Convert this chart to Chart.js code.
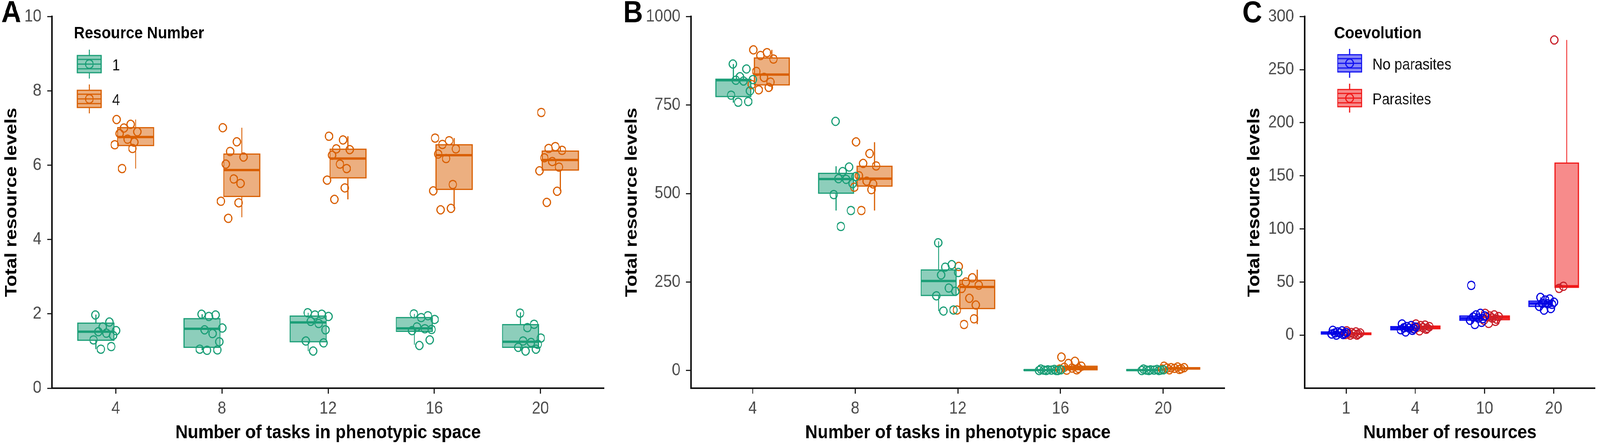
<!DOCTYPE html>
<html>
<head>
<meta charset="utf-8">
<title>Total resource levels</title>
<script src="https://cdn.jsdelivr.net/npm/chart.js@4.4.1/dist/chart.umd.min.js"></script>
<style>
  html, body { margin: 0; padding: 0; background: #fff; overflow: hidden; }
  #outer { position: relative; overflow: hidden; background: #fff; }
  #wrap { position: absolute; left: 0; top: 0; width: 4550px; height: 1146px; background: #fff; transform-origin: 0 0; }
  canvas { position: absolute; top: 0; }
</style>
</head>
<body>
<div id="outer">
  <div id="wrap">
    <canvas id="chartA" width="1760" height="1146" style="left:0px"></canvas>
    <canvas id="chartB" width="1740" height="1146" style="left:1760px"></canvas>
    <canvas id="chartC" width="1050" height="1146" style="left:3500px"></canvas>
  </div>
</div>
<script>
// ---- data ----
const taskCats = ['4', '8', '12', '16', '20'];
const resourceCats = ['1', '4', '10', '20'];

// box stats per group: [lower whisker, q1, median, q3, upper whisker]
const aRes1Box = [[1.05, 1.29, 1.52, 1.75, 1.98], [1.02, 1.10, 1.60, 1.87, 1.99], [1.00, 1.25, 1.77, 1.94, 2.03], [1.17, 1.53, 1.61, 1.90, 2.00], [1.00, 1.10, 1.25, 1.71, 2.04]];
const aRes4Box = [[5.91, 6.53, 6.76, 7.01, 7.23], [4.60, 5.16, 5.87, 6.30, 7.01], [5.08, 5.66, 6.18, 6.43, 6.78], [4.84, 5.35, 6.27, 6.55, 6.73], [5.31, 5.87, 6.14, 6.38, 6.51]];
const aRes1Pts = [
  [1.97, 1.78, 1.65, 1.55, 1.52, 1.48, 1.42, 1.30, 1.12, 1.05],
  [1.99, 1.97, 1.93, 1.62, 1.57, 1.47, 1.25, 1.05, 1.03, 1.02],
  [2.03, 1.99, 1.97, 1.93, 1.80, 1.74, 1.57, 1.27, 1.22, 1.00],
  [2.00, 1.95, 1.90, 1.85, 1.65, 1.60, 1.58, 1.55, 1.30, 1.15],
  [2.02, 1.72, 1.63, 1.35, 1.27, 1.23, 1.18, 1.10, 1.05, 1.00]
];
const aRes4Pts = [
  [7.23, 7.10, 7.00, 6.90, 6.85, 6.70, 6.62, 6.55, 6.45, 5.91],
  [7.01, 6.63, 6.37, 6.22, 6.03, 5.63, 5.51, 5.03, 4.99, 4.57],
  [6.78, 6.68, 6.44, 6.42, 6.27, 6.03, 5.91, 5.60, 5.39, 5.08],
  [6.73, 6.66, 6.56, 6.44, 6.30, 6.18, 5.48, 5.31, 4.84, 4.80],
  [7.42, 6.50, 6.45, 6.40, 6.20, 6.10, 5.95, 5.85, 5.30, 5.00]
];

const bRes1Box = [[757, 774, 820, 823, 866], [452, 501, 541, 557, 577], [168, 212, 253, 284, 365], [0, 0.5, 1, 2, 4], [0, 0.5, 1, 2, 4]];
const bRes4Box = [[793, 807, 836, 883, 906], [452, 521, 542, 577, 645], [131, 175, 236, 255, 285], [0, 2, 7, 12, 26], [2, 4, 6, 8, 12]];
const bRes1Pts = [
  [866, 852, 830, 822, 820, 818, 790, 778, 760, 758],
  [704, 575, 562, 548, 542, 540, 528, 497, 452, 407],
  [361, 299, 292, 277, 270, 233, 224, 211, 171, 168],
  [4, 3, 2, 2, 1, 1, 0, 0, 0, 0],
  [4, 3, 2, 2, 1, 1, 1, 0, 0, 0]
];
const bRes4Pts = [
  [906, 898, 890, 880, 845, 828, 815, 808, 800, 793],
  [646, 613, 585, 578, 550, 535, 527, 518, 511, 452],
  [294, 262, 250, 241, 232, 204, 185, 171, 146, 130],
  [38, 26, 20, 12, 9, 7, 6, 4, 2, 1],
  [12, 10, 8, 8, 7, 6, 5, 4, 3, 2]
];

const cNoParBox = [[0, 1, 2, 3, 4.5], [3, 5, 6.5, 8, 10.5], [10, 14, 15.8, 18, 21], [23.5, 27, 29.8, 32, 35.5]];
const cParBox = [[0, 0.5, 1.2, 2, 4], [4, 6, 7.3, 8.5, 10.5], [11, 14.5, 16.4, 18, 20.5], [44, 45, 46, 162, 278]];
const cNoParPts = [
  [4.5, 4, 3, 2.5, 2, 2, 1.5, 1, 0.5, 0],
  [10.5, 9, 8, 7.5, 7, 6.5, 6, 5, 4.5, 3],
  [46.8, 20.5, 19, 18, 17, 16, 15.5, 14, 12, 10],
  [35.5, 34, 33, 31, 30, 29.5, 29, 27, 25, 23.5]
];
const cParPts = [
  [4, 3, 2.5, 2, 1.5, 1, 1, 0.5, 0, 0],
  [10.5, 9.5, 9, 8, 7.5, 7, 6.5, 6, 5.5, 4],
  [20.5, 19, 18, 17.5, 17, 16, 15, 14, 13, 11],
  [278, 46, 44]
];

const aTicks = [0, 2, 4, 6, 8, 10];
const bTicks = [0, 250, 500, 750, 1000];
const cTicks = [0, 50, 100, 150, 200, 250, 300];

// ---- styling / layout ----
const FONT = "'Liberation Sans', Arial, Helvetica, sans-serif";
const GREEN = '#1B9E77', ORANGE = '#D95F02', BLUE = '#1010F0', RED = '#F01818';
const DODGE = 0.1875, BOX_W = 0.34;
const PT_SHIFT = 0.1, PT_SPREAD = 0.115;
const JITTER = [-0.8, 0.35, -0.2, 0.9, -0.55, 0.1, 0.65, -0.95, 0.5, -0.35];
const PLOT_TOP = 33, PLOT_BOTTOM = 993, W = 4550, H = 1146;

// stretch the fixed 4550x1146 layout over the whole viewport the window reports
const fitX = (window.innerWidth || W) / W;
const fitY = (window.innerHeight || H) / H;
const outer = document.getElementById('outer');
outer.style.width = (W * fitX) + 'px';
outer.style.height = (H * fitY) + 'px';
document.getElementById('wrap').style.transform = 'scale(' + fitX + ',' + fitY + ')';
const DPR = Math.max(fitX, fitY) * (window.devicePixelRatio || 1);

function jittered(groups, side) {
  const out = [];
  groups.forEach((vals, i) => {
    vals.forEach((v, j) => {
      out.push({ x: i + 1 + side * PT_SHIFT + JITTER[j % JITTER.length] * PT_SPREAD, y: v });
    });
  });
  return out;
}

function boxPlugin(series) {
  return {
    id: 'boxes',
    beforeDatasetsDraw(chart) {
      const { ctx, scales: { x, y } } = chart;
      series.forEach(s => {
        s.box.forEach((st, i) => {
          const cx = i + 1 + s.side * DODGE;
          const x0 = x.getPixelForValue(cx - BOX_W / 2);
          const x1 = x.getPixelForValue(cx + BOX_W / 2);
          const xm = x.getPixelForValue(cx);
          const [lo, q1, med, q3, hi] = st.map(v => y.getPixelForValue(v));
          ctx.save();
          ctx.strokeStyle = s.color;
          ctx.lineWidth = 3;
          ctx.beginPath();
          ctx.moveTo(xm, q3); ctx.lineTo(xm, hi);
          ctx.moveTo(xm, q1); ctx.lineTo(xm, lo);
          ctx.stroke();
          ctx.fillStyle = s.fill;
          ctx.fillRect(x0, q3, x1 - x0, q1 - q3);
          ctx.strokeRect(x0, q3, x1 - x0, q1 - q3);
          ctx.lineWidth = 6;
          ctx.beginPath();
          ctx.moveTo(x0, med); ctx.lineTo(x1, med);
          ctx.stroke();
          ctx.restore();
        });
      });
    }
  };
}

function decorPlugin(p) {
  return {
    id: 'decor',
    afterDraw(chart) {
      const ctx = chart.ctx;
      ctx.save();
      ctx.fillStyle = '#000';
      ctx.textBaseline = 'middle';
      ctx.textAlign = 'left';
      ctx.font = 'bold 78px ' + FONT;
      ctx.fillText(p.letter, p.letterX, 35);
      const lg = p.legend;
      if (lg) {
        ctx.font = 'bold 43px ' + FONT;
        ctx.fillText(lg.title, lg.titleX, 86);
        p.series.forEach((s, k) => {
          const cy = lg.keyY[k];
          const kx = lg.keyX, kw = 68, kh = 44;
          ctx.strokeStyle = s.color;
          ctx.lineWidth = 3;
          ctx.beginPath();
          ctx.moveTo(kx + kw / 2, cy - kh / 2 - 15); ctx.lineTo(kx + kw / 2, cy - kh / 2);
          ctx.moveTo(kx + kw / 2, cy + kh / 2); ctx.lineTo(kx + kw / 2, cy + kh / 2 + 15);
          ctx.stroke();
          ctx.fillStyle = s.fill;
          ctx.fillRect(kx, cy - kh / 2, kw, kh);
          ctx.strokeRect(kx, cy - kh / 2, kw, kh);
          ctx.beginPath();
          ctx.moveTo(kx, cy - 12); ctx.lineTo(kx + kw, cy - 12);
          ctx.moveTo(kx, cy); ctx.lineTo(kx + kw, cy);
          ctx.moveTo(kx, cy + 12); ctx.lineTo(kx + kw, cy + 12);
          ctx.stroke();
          ctx.beginPath();
          ctx.arc(kx + kw / 2, cy, 11, 0, Math.PI * 2);
          ctx.stroke();
          ctx.fillStyle = '#111';
          ctx.font = '40px ' + FONT;
          ctx.fillText(s.name, lg.labelX, cy + 5);
        });
      }
      ctx.restore();
    }
  };
}

function axisCommon() {
  return {
    grid: { display: true, drawOnChartArea: false, drawTicks: true, tickLength: 14, tickWidth: 3, tickColor: '#222' },
    border: { display: true, color: '#111', width: 4 }
  };
}

function makePanel(id, p) {
  const canvas = document.getElementById(id);
  const datasets = p.series.map(s => ({
    label: s.name,
    data: jittered(s.pts, s.side),
    pointStyle: 'circle',
    pointRadius: 10.5,
    pointHoverRadius: 10.5,
    borderWidth: 3,
    borderColor: s.ptColor,
    backgroundColor: 'rgba(0,0,0,0)'
  }));
  return new Chart(canvas, {
    type: 'scatter',
    data: { datasets },
    options: {
      responsive: false,
      animation: false,
      devicePixelRatio: DPR,
      layout: { padding: { top: PLOT_TOP, right: p.padRight, left: 0, bottom: 0 } },
      plugins: { legend: { display: false }, tooltip: { enabled: false } },
      scales: {
        x: Object.assign(axisCommon(), {
          type: 'linear',
          min: 0.4,
          max: p.cats.length + 0.6,
          afterBuildTicks: s => { s.ticks = p.cats.map((c, i) => ({ value: i + 1 })); },
          afterFit: s => { s.height = H - PLOT_BOTTOM; },
          ticks: {
            autoSkip: false, maxRotation: 0, padding: 12,
            color: '#4D4D4D', font: { family: FONT, size: 44 },
            callback: v => p.cats[Math.round(v) - 1]
          },
          title: {
            display: true, text: p.xTitle, color: '#000',
            font: { family: FONT, size: 49, weight: 'bold' },
            padding: { top: 0, bottom: 9 }
          }
        }),
        y: Object.assign(axisCommon(), {
          min: p.yMin,
          max: p.yMax,
          afterBuildTicks: s => { s.ticks = p.yTicks.map(v => ({ value: v })); },
          afterFit: s => { s.width = p.axisLeft; },
          ticks: {
            padding: 16, color: '#4D4D4D', font: { family: FONT, size: 44 },
            callback: v => String(v)
          },
          title: {
            display: true, text: 'Total resource levels', color: '#000',
            font: { family: FONT, size: 49, weight: 'bold' },
            padding: { top: p.yTitlePad, bottom: 0 }
          }
        })
      }
    },
    plugins: [boxPlugin(p.series), decorPlugin(p)]
  });
}

const greenFill = 'rgba(27,158,119,0.5)', orangeFill = 'rgba(217,95,2,0.5)';
const blueFill = 'rgba(16,16,240,0.5)', redFill = 'rgba(240,24,24,0.5)';

makePanel('chartA', {
  letter: 'A', letterX: 4, cats: taskCats, xTitle: 'Number of tasks in phenotypic space',
  yMin: 0, yMax: 10, yTicks: aTicks, axisLeft: 148, padRight: 42, yTitlePad: 4,
  legend: { title: 'Resource Number', titleX: 210, keyX: 220, keyY: [164, 253], labelX: 319 },
  series: [
    { name: '1', side: -1, box: aRes1Box, pts: aRes1Pts, color: GREEN, ptColor: GREEN, fill: greenFill },
    { name: '4', side: 1, box: aRes4Box, pts: aRes4Pts, color: ORANGE, ptColor: ORANGE, fill: orangeFill }
  ]
});

makePanel('chartB', {
  letter: 'B', letterX: 12, cats: taskCats, xTitle: 'Number of tasks in phenotypic space',
  yMin: -50, yMax: 1000, yTicks: bTicks, axisLeft: 205, padRight: 17, yTitlePad: 8,
  legend: null,
  series: [
    { name: '1', side: -1, box: bRes1Box, pts: bRes1Pts, color: GREEN, ptColor: GREEN, fill: greenFill },
    { name: '4', side: 1, box: bRes4Box, pts: bRes4Pts, color: ORANGE, ptColor: ORANGE, fill: orangeFill }
  ]
});

makePanel('chartC', {
  letter: 'C', letterX: 33, cats: resourceCats, xTitle: 'Number of resources',
  yMin: -50, yMax: 300, yTicks: cTicks, axisLeft: 210, padRight: 6, yTitlePad: 38,
  legend: { title: 'Coevolution', titleX: 294, keyX: 304, keyY: [162, 251], labelX: 403 },
  series: [
    { name: 'No parasites', side: -1, box: cNoParBox, pts: cNoParPts, color: BLUE, ptColor: '#0000E0', fill: blueFill },
    { name: 'Parasites', side: 1, box: cParBox, pts: cParPts, color: RED, ptColor: '#C8202A', fill: redFill }
  ]
});
</script>
</body>
</html>
